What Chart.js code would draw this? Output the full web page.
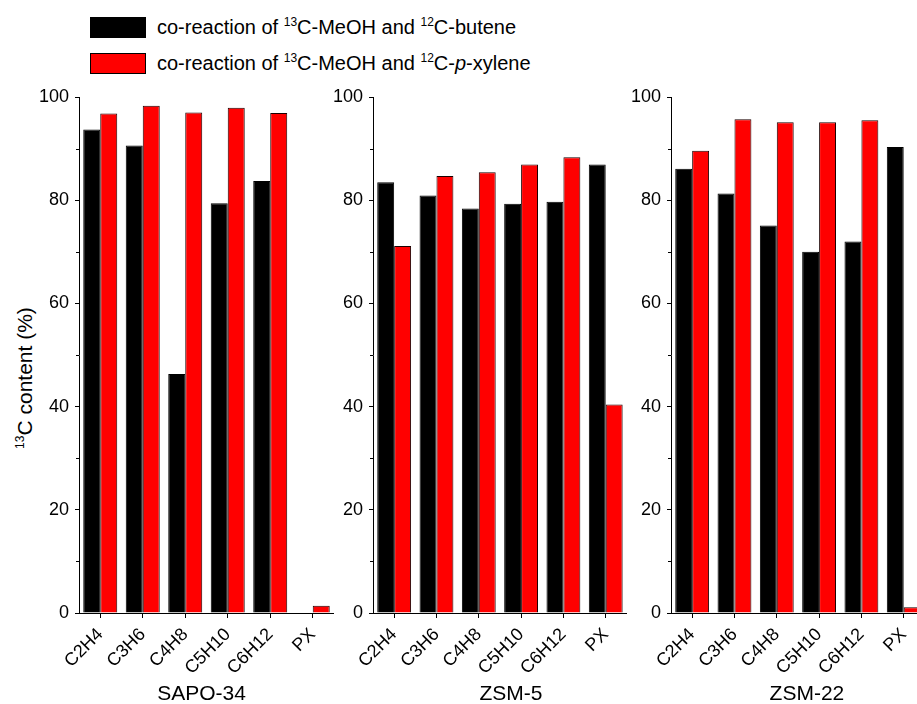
<!DOCTYPE html>
<html>
<head>
<meta charset="utf-8">
<script src="https://cdn.jsdelivr.net/npm/chart.js@4.4.1/dist/chart.umd.min.js"></script>
<style>
  html, body { margin: 0; padding: 0; width: 917px; height: 704px; overflow: hidden; background: #fff; }
  body { position: relative; font-family: "Liberation Sans", Arial, sans-serif; color: #000; }
  canvas { position: absolute; top: 0; }
  .leg { position: absolute; left: 90px; width: 56px; height: 21px; box-sizing: border-box; border: 1px solid #000; }
  .legtxt { position: absolute; left: 157px; font-size: 20px; line-height: 24px; white-space: nowrap; }
  .sup { font-size: 12px; position: relative; top: -8px; }
  #ytitle { position: absolute; left: 26px; top: 378px; font-size: 21px; line-height: 24px; white-space: nowrap;
            transform: translate(-50%, -50%) rotate(-90deg); }
</style>
</head>
<body>
<div class="leg" style="top:17px;background:#000;"></div>
<div class="legtxt" style="top:15px;">co-reaction of <span class="sup">13</span>C-MeOH and <span class="sup">12</span>C-butene</div>
<div class="leg" style="top:53px;background:#ff0000;"></div>
<div class="legtxt" style="top:51px;">co-reaction of <span class="sup">13</span>C-MeOH and <span class="sup">12</span>C-<i>p</i>-xylene</div>
<div id="ytitle"><span class="sup">13</span>C content (%)</div>

<canvas id="c1" width="334" height="704" style="left:0px;"></canvas>
<canvas id="c2" width="304" height="704" style="left:323px;"></canvas>
<canvas id="c3" width="304" height="704" style="left:621px;"></canvas>

<script>
const categories = ['C2H4', 'C3H6', 'C4H8', 'C5H10', 'C6H12', 'PX'];
const seriesNames = ['co-reaction of 13C-MeOH and 12C-butene', 'co-reaction of 13C-MeOH and 12C-p-xylene'];
const sapoButene  = [93.7, 90.6, 46.3, 79.4, 83.7, 0];
const sapoXylene  = [96.8, 98.3, 97.0, 97.9, 96.9, 1.4];
const zsm5Butene  = [83.5, 80.9, 78.4, 79.3, 79.7, 86.9];
const zsm5Xylene  = [71.1, 84.7, 85.4, 86.9, 88.3, 40.4];
const zsm22Butene = [86.1, 81.3, 75.1, 70.0, 72.0, 90.3];
const zsm22Xylene = [89.6, 95.7, 95.1, 95.1, 95.5, 1.1];
const panelTitles = ['SAPO-34', 'ZSM-5', 'ZSM-22'];
const yMajorTicks = [0, 20, 40, 60, 80, 100];
const yMinorTicks = [10, 30, 50, 70, 90];

const FONT = '"Liberation Sans", Arial, sans-serif';

const minorTicks = {
  id: 'minorTicks',
  afterDraw(chart) {
    const y = chart.scales.y;
    const ctx = chart.ctx;
    ctx.save();
    ctx.strokeStyle = '#000';
    ctx.lineWidth = 1;
    yMinorTicks.forEach(v => {
      const py = Math.round(y.getPixelForValue(v)) + 0.5;
      ctx.beginPath();
      ctx.moveTo(y.right - 3, py);
      ctx.lineTo(y.right, py);
      ctx.stroke();
    });
    ctx.restore();
  }
};

// panel title drawn under the x axis, centred on the axis with a small shift
const panelTitle = {
  id: 'panelTitle',
  afterDraw(chart, args, opts) {
    const x = chart.scales.x;
    const ctx = chart.ctx;
    ctx.save();
    ctx.fillStyle = '#000';
    ctx.font = '21px ' + FONT;
    ctx.textAlign = 'center';
    ctx.textBaseline = 'alphabetic';
    ctx.fillText(opts.text, (x.left + x.right) / 2 + (opts.shift || 0), 700);
    ctx.restore();
  }
};

function makeChart(id, yWidth, butene, xylene, title, shift) {
  return new Chart(document.getElementById(id), {
    type: 'bar',
    data: {
      labels: categories,
      datasets: [
        { label: seriesNames[0], data: butene, backgroundColor: '#000000', borderColor: '#000000', borderWidth: 1 },
        { label: seriesNames[1], data: xylene, backgroundColor: '#ff0000', borderColor: '#1a0000', borderWidth: 1 }
      ]
    },
    options: {
      responsive: false,
      animation: false,
      devicePixelRatio: 1,
      layout: { padding: { top: 97, right: 0, bottom: 0, left: 0 } },
      plugins: { legend: { display: false }, tooltip: { enabled: false }, panelTitle: { text: title, shift: shift } },
      datasets: { bar: { categoryPercentage: 0.8, barPercentage: 1.0 } },
      scales: {
        x: {
          type: 'category',
          offset: true,
          grid: { display: true, drawOnChartArea: false, drawTicks: true, tickLength: 5, offset: false, color: '#000' },
          border: { display: true, color: '#000', width: 1 },
          ticks: { color: '#000', font: { family: FONT, size: 18 }, minRotation: 45, maxRotation: 45, padding: 6, autoSkip: false },
          title: { display: false },
          afterFit(scale) { scale.height = 91; }
        },
        y: {
          min: 0, max: 100,
          afterBuildTicks(scale) { scale.ticks = yMajorTicks.map(v => ({ value: v })); },
          grid: { display: true, drawOnChartArea: false, drawTicks: true, tickLength: 4, color: '#000' },
          border: { display: true, color: '#000', width: 1 },
          ticks: { color: '#000', font: { family: FONT, size: 18 }, padding: 6 },
          afterFit(scale) { scale.width = yWidth; }
        }
      }
    },
    plugins: [minorTicks, panelTitle]
  });
}

makeChart('c1', 79, sapoButene, sapoXylene, panelTitles[0], -5);
makeChart('c2', 50, zsm5Butene, zsm5Xylene, panelTitles[1], 11);
makeChart('c3', 50, zsm22Butene, zsm22Xylene, panelTitles[2], 9);
</script>
</body>
</html>
